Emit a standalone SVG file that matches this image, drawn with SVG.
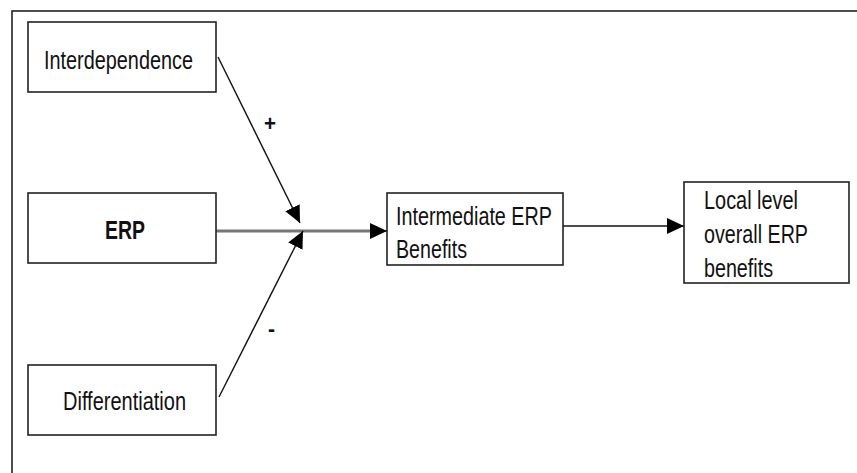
<svg xmlns="http://www.w3.org/2000/svg" width="857" height="473" viewBox="0 0 857 473">
<style>
.box{fill:#fff;stroke:#222;stroke-width:1.6}
.t{font-family:"Liberation Sans",Arial,sans-serif;font-size:26px;fill:#111}
.b{font-weight:bold}
.c{fill:none;stroke:#111;stroke-width:1.4}
</style>
<defs>
<marker id="ah" markerUnits="userSpaceOnUse" markerWidth="18" markerHeight="16" refX="17" refY="8" orient="auto">
<path d="M0,0 L17,8 L0,16 Z" fill="#000"/>
</marker>
</defs>
<rect x="12" y="11" width="870" height="490" fill="none" stroke="#222" stroke-width="1.6"/>
<g id="connectors">
<line x1="216" y1="231" x2="372" y2="231" stroke="#777" stroke-width="3.2"/>
<line class="c" x1="370" y1="231" x2="387" y2="231" marker-end="url(#ah)"/>
<line class="c" x1="563" y1="226" x2="684" y2="226" marker-end="url(#ah)"/>
<line class="c" x1="218" y1="57" x2="300" y2="223" marker-end="url(#ah)"/>
<line class="c" x1="219" y1="397" x2="303" y2="231" marker-end="url(#ah)"/>
<text class="t b" x="264" y="131" textLength="12" lengthAdjust="spacingAndGlyphs" style="font-size:22px">+</text>
<text class="t b" x="268" y="336" textLength="7" lengthAdjust="spacingAndGlyphs" style="font-size:22px">-</text>
</g>
<g id="interdependence">
<rect class="box" x="28" y="22" width="188" height="70"/>
<text class="t" x="44" y="69" textLength="149" lengthAdjust="spacingAndGlyphs">Interdependence</text>
</g>
<g id="erp">
<rect class="box" x="28" y="193" width="188" height="70"/>
<text class="t b" x="105" y="239" textLength="40" lengthAdjust="spacingAndGlyphs">ERP</text>
</g>
<g id="differentiation">
<rect class="box" x="28" y="365" width="188" height="70"/>
<text class="t" x="63" y="410" textLength="123" lengthAdjust="spacingAndGlyphs">Differentiation</text>
</g>
<g id="intermediate">
<rect class="box" x="387" y="193" width="176" height="72"/>
<text class="t" x="396" y="225" textLength="156" lengthAdjust="spacingAndGlyphs">Intermediate ERP</text>
<text class="t" x="396" y="258" textLength="71" lengthAdjust="spacingAndGlyphs">Benefits</text>
</g>
<g id="local">
<rect class="box" x="684" y="182" width="165" height="101"/>
<text class="t" x="704" y="209" textLength="94" lengthAdjust="spacingAndGlyphs">Local level</text>
<text class="t" x="704" y="243" textLength="104" lengthAdjust="spacingAndGlyphs">overall ERP</text>
<text class="t" x="704" y="277" textLength="69" lengthAdjust="spacingAndGlyphs">benefits</text>
</g>
</svg>
